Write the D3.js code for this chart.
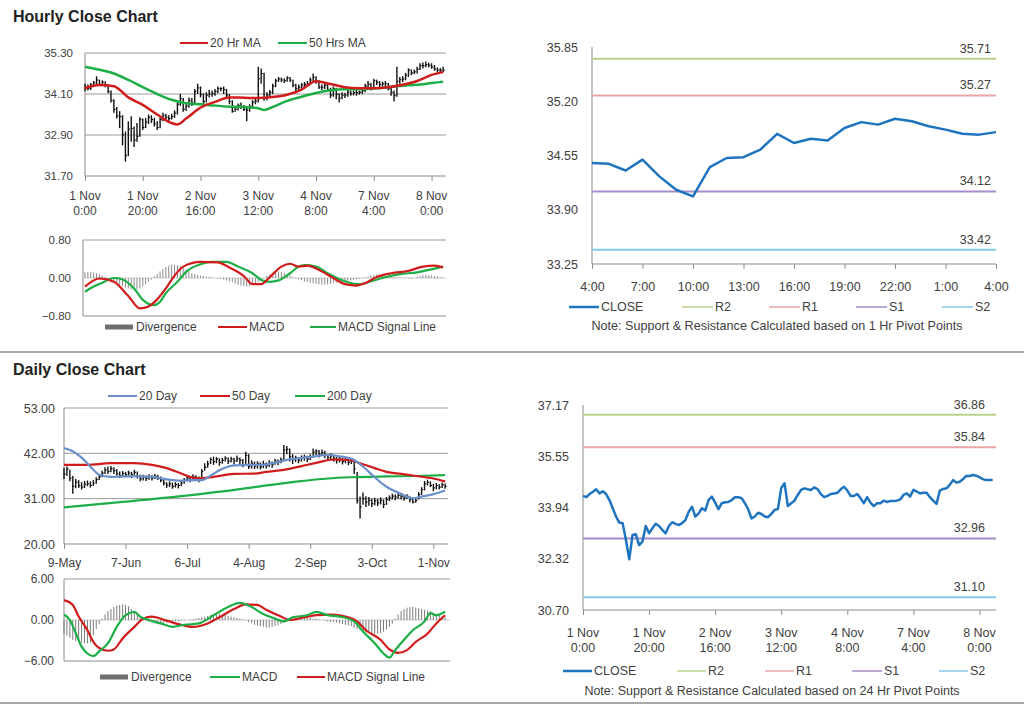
<!DOCTYPE html>
<html><head><meta charset="utf-8">
<script src="https://cdn.jsdelivr.net/npm/d3@7"></script>
<style>
body{margin:0;background:#fff;}
svg{display:block;font-family:"Liberation Sans",Arial,sans-serif;}
</style></head><body>
<svg id="c" width="1024" height="706"></svg>
<script>
// ---------------- HOURLY (1 Nov 0:00 .. 8 Nov 4:00) ----------------
const hourlyTickIdx = [0,20,40,60,80,100,120];
const hourlyTickLabels = [["1 Nov","0:00"],["1 Nov","20:00"],["2 Nov","16:00"],["3 Nov","12:00"],["4 Nov","8:00"],["7 Nov","4:00"],["8 Nov","0:00"]];
const hourlyClose = [34.30,34.26,34.36,34.43,34.51,34.38,34.45,34.36,34.17,33.91,
33.65,33.46,33.44,32.91,32.30,33.07,33.09,32.75,32.86,33.35,
33.12,33.28,33.42,33.35,33.23,33.12,33.35,33.47,33.42,33.38,
33.44,33.54,33.80,33.96,33.65,33.75,33.91,33.84,34.17,34.28,
34.09,33.88,34.07,34.10,34.11,34.17,34.26,34.26,34.23,34.07,
33.88,33.59,33.65,33.77,33.73,33.65,33.63,33.73,33.86,33.89,
34.55,34.70,33.98,34.07,34.15,34.33,34.49,34.54,34.51,34.49,
34.57,34.51,34.36,34.26,34.30,34.36,34.38,34.40,34.51,34.59,
34.47,34.30,34.30,34.36,34.23,34.07,34.26,34.09,33.98,34.07,
34.07,34.15,34.11,34.14,34.14,34.15,34.19,34.33,34.38,34.28,
34.49,34.44,34.38,34.40,34.40,34.26,34.15,34.05,34.47,34.52,
34.54,34.65,34.80,34.72,34.75,34.83,34.93,34.93,34.96,34.94,
34.89,34.83,34.80,34.80,34.80];
const hourlyHigh = [34.40,34.38,34.42,34.48,34.62,34.52,34.50,34.47,34.38,34.20,
33.95,33.72,33.60,33.48,33.00,33.30,33.45,33.15,33.25,33.42,
33.38,33.40,33.50,33.48,33.40,33.30,33.42,33.55,33.52,33.48,
33.52,33.62,33.85,34.10,33.98,33.85,34.00,33.98,34.25,34.40,
34.32,34.12,34.15,34.22,34.20,34.25,34.32,34.30,34.32,34.25,
34.10,33.92,33.75,33.82,33.85,33.78,33.72,33.80,33.92,33.98,
34.90,34.85,34.72,34.15,34.22,34.40,34.55,34.60,34.58,34.56,
34.62,34.60,34.52,34.40,34.38,34.42,34.45,34.48,34.58,34.70,
34.62,34.50,34.38,34.42,34.40,34.28,34.32,34.28,34.12,34.15,
34.14,34.22,34.20,34.20,34.22,34.20,34.26,34.40,34.48,34.42,
34.55,34.52,34.48,34.46,34.48,34.42,34.30,34.20,34.90,34.60,
34.62,34.72,34.85,34.82,34.82,34.90,35.00,35.02,35.05,35.02,
35.00,34.95,34.88,34.86,34.90];
const hourlyLow = [34.18,34.20,34.22,34.30,34.38,34.33,34.34,34.30,34.12,33.85,
33.55,33.38,33.10,32.60,32.12,32.28,32.70,32.55,32.70,32.85,
33.05,33.10,33.22,33.25,33.15,33.05,33.10,33.30,33.35,33.30,
33.35,33.40,33.50,33.75,33.58,33.60,33.70,33.75,33.82,34.10,
34.00,33.80,33.85,34.00,34.02,34.05,34.12,34.18,34.10,34.00,
33.80,33.55,33.58,33.62,33.66,33.60,33.30,33.58,33.70,33.80,
33.85,34.40,33.90,33.92,34.00,34.10,34.30,34.45,34.45,34.42,
34.46,34.45,34.30,34.12,34.22,34.25,34.30,34.33,34.38,34.48,
34.40,34.25,34.22,34.25,34.18,33.98,34.02,33.95,33.85,33.95,
33.98,34.02,34.05,34.06,34.05,34.08,34.10,34.15,34.28,34.20,
34.25,34.36,34.30,34.32,34.30,34.20,34.05,33.88,34.02,34.40,
34.45,34.50,34.60,34.65,34.68,34.70,34.80,34.85,34.88,34.88,
34.84,34.78,34.74,34.72,34.74];
const ma20HrIdx = [0,5,10,15,20,25,30,32,35,40,45,50,55,60,65,70,75,80,85,90,95,100,105,110,115,120,124];
const ma20HrVal = [34.27,34.36,34.33,34.00,33.78,33.50,33.25,33.21,33.38,33.70,33.87,34.00,33.99,33.98,34.01,34.08,34.23,34.47,34.39,34.30,34.27,34.27,34.30,34.37,34.48,34.66,34.74];
const ma50HrIdx = [0,5,10,15,20,25,30,35,40,45,50,55,60,62,65,70,75,80,85,90,95,100,105,110,115,120,124];
const ma50HrVal = [34.90,34.81,34.70,34.51,34.30,34.10,33.93,33.83,33.80,33.76,33.73,33.72,33.68,33.63,33.72,33.90,34.02,34.13,34.21,34.24,34.24,34.26,34.30,34.34,34.37,34.42,34.46];
const hMacdIdx = [0,5,10,15,19,22,25,28,31,34,40,46,50,55,58,61,64,68,71,74,77,80,86,90,94,97,101,106,112,117,121,124];
const hMacdVal = [-0.18,-0.01,-0.08,-0.38,-0.64,-0.60,-0.45,-0.22,0.05,0.24,0.34,0.33,0.22,0.04,-0.13,-0.13,0.02,0.24,0.30,0.24,0.26,0.20,0.00,-0.13,-0.16,-0.11,0.02,0.10,0.15,0.24,0.26,0.22];
const hSignalIdx = [0,3,6,10,13,17,20,24,26,28,32,35,40,44,49,53,58,61,64,67,71,74,76,80,84,88,91,95,98,103,109,115,119,124];
const hSignalVal = [-0.29,-0.18,-0.10,0.00,-0.03,-0.22,-0.46,-0.57,-0.50,-0.32,-0.08,0.13,0.29,0.34,0.34,0.24,0.10,-0.04,-0.08,-0.05,0.10,0.24,0.27,0.24,0.10,-0.02,-0.09,-0.13,-0.09,0.00,0.08,0.12,0.17,0.24];
const hDivergence = [0.12,0.13,0.13,0.12,0.10,0.08,0.05,0.02,-0.02,-0.05,
-0.08,-0.11,-0.14,-0.17,-0.20,-0.22,-0.24,-0.25,-0.24,-0.22,
-0.18,-0.13,-0.08,-0.03,0.03,0.08,0.14,0.19,0.23,0.26,
0.28,0.28,0.27,0.25,0.22,0.18,0.14,0.10,0.08,0.06,
0.05,0.04,0.03,0.02,0.01,0.00,-0.01,-0.02,-0.03,-0.05,
-0.07,-0.09,-0.12,-0.14,-0.16,-0.17,-0.18,-0.17,-0.15,-0.12,
-0.08,-0.04,0.01,0.05,0.08,0.11,0.13,0.14,0.13,0.11,
0.08,0.05,0.02,-0.01,-0.03,-0.05,-0.07,-0.08,-0.10,-0.11,
-0.12,-0.13,-0.14,-0.14,-0.13,-0.12,-0.11,-0.10,-0.09,-0.08,
-0.07,-0.06,-0.05,-0.04,-0.03,-0.02,-0.01,0.01,0.03,0.05,
0.06,0.07,0.07,0.06,0.05,0.04,0.03,0.02,0.01,0.01,
0.00,0.01,-0.01,-0.02,0.00,0.02,0.04,0.06,0.07,0.06,
0.05,0.04,0.03,0.02,0.01];
const hPriceTicks = [31.70,32.90,34.10,35.30];
const hMacdTicks = [-0.80,0.00,0.80];

// ---------------- 1 HR PIVOT (last 24 hours) ----------------
const pivot1Labels = ["4:00","5:00","6:00","7:00","8:00","9:00","10:00","11:00","12:00","13:00","14:00","15:00","16:00","17:00","18:00","19:00","20:00","21:00","22:00","23:00","0:00","1:00","2:00","3:00","4:00"];
const pivot1Close = [34.46,34.45,34.37,34.50,34.30,34.14,34.06,34.41,34.52,34.53,34.62,34.81,34.70,34.75,34.73,34.88,34.95,34.92,34.99,34.96,34.90,34.86,34.81,34.80,34.83];
const pivot1Ticks = [33.25,33.90,34.55,35.20,35.85];
const pivot1Names = ["R2","R1","S1","S2"];
const pivot1Levels = [35.71,35.27,34.12,33.42];

// ---------------- DAILY (9 May .. 8 Nov) ----------------
const dailyTickIdx = [0,21,42,63,84,105,126];
const dailyTickLabels = ["9-May","7-Jun","6-Jul","4-Aug","2-Sep","3-Oct","1-Nov"];
const dailyClose = [37.0,38.2,36.0,34.0,35.0,34.2,33.8,34.5,34.6,34.2,
34.8,35.6,36.3,37.2,38.0,37.6,38.3,37.8,37.0,36.6,
37.1,36.8,37.2,36.9,37.4,36.5,35.8,36.2,35.9,36.3,
36.0,36.4,36.1,35.5,34.8,34.3,34.6,34.0,34.4,34.2,
34.8,35.5,36.0,35.6,36.3,36.0,35.8,37.6,38.6,39.4,
40.5,40.0,40.6,39.8,40.3,40.8,40.1,40.6,40.2,40.7,
40.3,39.2,41.5,38.8,39.6,38.9,39.5,38.7,39.4,39.0,
39.6,39.2,40.1,39.8,40.4,42.8,43.0,41.2,40.5,40.9,
40.3,40.8,41.0,40.6,41.2,42.3,42.5,41.8,42.2,41.5,
41.0,41.4,40.8,40.3,40.6,40.0,40.4,39.8,40.2,38.2,
30.5,29.0,31.0,30.2,30.6,29.8,30.5,30.0,30.6,29.6,
30.8,31.2,31.6,31.4,31.8,31.5,31.2,31.6,30.8,30.2,
30.6,32.0,33.2,34.6,35.0,34.2,33.6,34.2,33.8,34.4,34.0];
const dailyHigh = [38.5,38.8,38.0,36.5,35.8,35.5,35.0,35.3,35.4,35.2,
35.5,36.2,37.0,37.8,38.6,38.8,38.9,38.6,38.2,37.6,
37.7,37.5,37.8,37.5,38.0,37.6,36.8,36.8,36.6,36.9,
36.7,37.0,36.8,36.4,35.8,35.0,35.2,34.9,35.0,34.8,
35.3,36.0,36.6,36.5,36.9,36.7,36.4,38.2,39.6,40.2,
41.0,41.2,41.1,40.8,40.9,41.3,41.0,41.2,40.9,41.5,
41.0,40.6,42.4,41.8,40.3,40.0,40.1,39.8,40.2,39.8,
40.3,40.0,40.7,40.5,41.0,44.0,43.8,43.2,41.8,41.4,
41.0,41.5,41.7,41.4,41.8,43.2,43.0,42.8,42.9,42.6,
41.8,42.0,41.6,41.1,41.2,40.9,41.0,40.7,40.8,40.6,
37.5,31.5,32.5,31.6,31.4,31.0,31.2,30.9,31.3,30.8,
31.4,31.8,32.2,32.0,32.4,32.2,31.9,32.1,31.5,31.0,
31.2,32.6,33.8,35.3,35.6,35.2,34.6,34.8,34.5,34.9,34.7];
const dailyLow = [35.8,36.5,35.2,32.2,33.5,33.6,33.2,33.6,34.0,33.7,
34.1,34.6,35.5,36.2,37.0,37.0,37.4,37.0,36.6,36.0,
36.3,36.2,36.5,36.0,36.6,35.9,35.2,35.4,35.3,35.6,
35.4,35.8,35.5,35.0,34.2,33.6,33.8,33.4,33.7,33.5,
34.0,34.6,35.2,35.0,35.6,35.3,35.0,36.0,37.8,38.5,
39.4,39.2,39.6,39.0,39.5,40.0,39.4,39.8,39.3,39.9,
39.3,38.6,39.0,38.2,38.3,38.2,38.3,38.1,38.4,38.3,
38.7,38.5,39.2,39.1,39.6,40.1,41.8,40.0,39.4,39.9,
39.6,40.0,40.2,39.9,40.4,41.0,41.6,41.0,41.4,40.8,
40.2,40.5,40.0,39.5,39.8,39.3,39.6,39.1,39.4,37.0,
29.8,26.2,29.5,29.0,29.3,29.0,29.4,29.2,29.6,28.7,
29.5,30.4,30.8,30.6,31.0,30.8,30.5,30.9,30.1,29.8,
30.0,30.8,31.9,33.0,34.2,33.8,32.8,33.3,33.2,33.6,33.4];
const ma20DayIdx = [0,3,7,10,12,16,21,26,30,35,40,44,47,50,53,58,63,68,71,76,80,85,90,94,99,102,106,110,115,119,122,126,130];
const ma20DayVal = [43.3,42.5,40.3,38.0,36.8,36.3,36.4,36.4,36.3,35.7,35.4,35.5,35.5,36.6,37.9,39.1,39.2,39.2,39.6,40.4,40.8,41.2,41.6,41.3,40.4,38.8,36.2,33.9,32.2,31.1,31.5,32.1,33.0];
const ma50DayIdx = [0,8,16,24,30,35,40,43,46,51,58,65,69,75,81,86,92,97,101,106,110,115,120,126,130];
const ma50DayVal = [39.2,39.2,39.6,39.6,39.2,38.4,37.1,36.3,35.9,36.3,37.0,37.1,37.5,38.0,38.9,39.7,40.5,40.4,39.6,38.4,37.5,37.0,36.5,35.9,35.2];
const ma200DayIdx = [0,20,40,60,67,80,90,98,110,120,130];
const ma200DayVal = [28.9,30.2,31.6,33.3,34.0,35.2,35.9,36.2,36.4,36.5,36.7];
const dMacdIdx = [0,2,4,6,8,10,12,15,18,21,24,26,29,33,37,41,46,51,56,60,64,67,72,75,78,83,86,90,94,99,102,106,109,111,113,116,119,123,125,127,130];
const dMacdVal = [0.8,0.0,-1.9,-3.9,-4.9,-5.3,-4.6,-3.4,-1.0,0.7,1.2,0.5,0.0,-0.5,-1.0,-0.7,-0.5,0.7,1.9,2.5,1.9,1.1,0.2,-0.2,0.4,0.7,1.2,0.7,0.5,-0.2,-1.7,-3.4,-4.9,-5.5,-4.4,-2.9,-1.5,-0.2,1.0,0.7,1.2];
const dSignalIdx = [0,3,5,8,10,12,15,17,20,24,27,30,35,40,44,49,53,58,62,66,69,74,77,82,86,91,95,100,103,108,111,114,117,120,124,127,130];
const dSignalVal = [2.9,2.2,0.5,-1.5,-3.2,-4.1,-4.5,-4.3,-2.7,-1.0,0.2,0.5,-0.1,-0.7,-1.0,-0.5,0.4,1.6,2.3,2.2,1.5,0.5,0.0,0.4,0.7,0.8,0.6,-0.2,-1.5,-2.9,-4.3,-4.8,-4.4,-3.2,-2.0,-0.5,0.7];
const dDivergence = [-2.0,-2.3,-2.6,-2.9,-3.1,-3.2,-3.3,-3.4,-3.4,-3.3,
-2.2,-1.3,-0.6,0.2,0.8,1.3,1.6,1.9,2.1,2.2,
2.3,2.2,2.0,1.6,1.2,0.8,0.5,0.2,-0.2,-0.3,
-0.4,-0.5,-0.5,-0.5,-0.4,-0.4,-0.3,-0.3,-0.2,-0.2,
-0.1,-0.1,0.0,0.1,0.1,0.2,0.3,0.4,0.5,0.6,
0.7,0.8,0.8,0.9,0.8,0.7,0.6,0.5,0.4,0.3,
0.2,0.1,-0.1,-0.3,-0.5,-0.7,-0.8,-0.9,-1.0,-1.1,
-1.1,-1.0,-0.9,-0.8,-0.6,-0.4,-0.2,0.1,0.2,0.3,
0.3,0.4,0.4,0.3,0.3,0.2,0.2,0.1,0.0,-0.1,
-0.2,-0.3,-0.3,-0.4,-0.5,-0.6,-0.7,-0.8,-0.9,-1.1,
-1.3,-1.5,-1.7,-1.8,-1.9,-2.0,-2.0,-2.0,-1.9,-1.7,
-1.4,-1.0,-0.5,0.2,0.8,1.3,1.6,1.8,1.9,1.9,
1.8,1.7,1.6,1.5,1.4,1.3,1.1,0.9,0.7,0.5,0.4];
const dPriceTicks = [20,31,42,53];
const dMacdTicks = [-6,0,6];

// ---------------- 24 HR PIVOT (hourly close) ----------------
const pivot24Ticks = [30.70,32.32,33.94,35.55,37.17];
const pivot24Names = ["R2","R1","S1","S2"];
const pivot24Levels = [36.86,35.84,32.96,31.10];

// ---------------- drawing ----------------
const svg = d3.select("#c");
const TXT = "#404040", GRID = "#9a9a9a", AXC = "#8c8c8c";
const RED = "#d01c1c", GREEN = "#1eae47", BLUE = "#1f74bf", LBLUE = "#6a8fcb";
const levelColors = ["#b9d38e","#eaa4a4","#a58ec9","#84c9e6"];

function txt(x,y,s,anchor,size,weight,color){
  return svg.append("text").attr("x",x).attr("y",y).attr("text-anchor",anchor||"start")
    .attr("font-size",size||11).attr("font-weight",weight||"normal").attr("fill",color||TXT).text(s);
}
function hline(x1,x2,y,color,w){svg.append("line").attr("x1",x1).attr("x2",x2).attr("y1",y).attr("y2",y).attr("stroke",color).attr("stroke-width",w);}
function vline(x,y1,y2,color,w){svg.append("line").attr("x1",x).attr("x2",x).attr("y1",y1).attr("y2",y2).attr("stroke",color).attr("stroke-width",w);}
function legendLine(x1,x2,y,color,label,w,fs){hline(x1,x2,y,color,w||2);txt(x2+2,y+4,label,"start",fs||12);}
function legendBar(x1,x2,y,label){svg.append("rect").attr("x",x1).attr("y",y-2.5).attr("width",x2-x1).attr("height",5).attr("fill","#6e6e6e");txt(x2+3,y+4,label,"start",12);}

function yAxis(y,ticks,fmt,axisX,labelX,gridX2,gridTicks,fs){
  const g = svg.append("g").attr("transform",`translate(${labelX},0)`)
    .call(d3.axisLeft(y).tickValues(ticks).tickFormat(fmt).tickSize(0).tickPadding(0));
  g.select(".domain").remove();
  g.selectAll("text").attr("font-size",fs).attr("fill",TXT).attr("font-family","Liberation Sans, Arial, sans-serif");
  if(gridTicks) gridTicks.forEach(t=>hline(axisX,gridX2,y(t),GRID,1));
  vline(axisX,y.range()[1],y.range()[0],AXC,1);
}
function xAxisTwoLine(x,y0,idx,labels,x1,x2,l1,l2,fs){
  hline(x1,x2,y0,AXC,1);
  const g = svg.append("g").attr("transform",`translate(0,${y0})`)
    .call(d3.axisBottom(x).tickValues(idx).tickFormat("").tickSize(5));
  g.select(".domain").remove();
  g.selectAll("line").attr("stroke",AXC);
  idx.forEach((d,k)=>{
    const t = svg.append("text").attr("text-anchor","middle").attr("font-size",fs).attr("fill",TXT);
    t.append("tspan").attr("x",x(d)).attr("y",l1).text(labels[k][0]);
    t.append("tspan").attr("x",x(d)).attr("y",l2).text(labels[k][1]);
  });
}
function xAxisOneLine(x,y0,idx,labels,x1,x2,ly,fs){
  hline(x1,x2,y0,AXC,1);
  const g = svg.append("g").attr("transform",`translate(0,${y0})`)
    .call(d3.axisBottom(x).tickValues(idx).tickFormat((d,k)=>labels[k]).tickSize(5).tickPadding(ly-y0-fs-1));
  g.select(".domain").remove();
  g.selectAll("line").attr("stroke",AXC);
  g.selectAll("text").attr("font-size",fs).attr("fill",TXT).attr("font-family","Liberation Sans, Arial, sans-serif");
}
function bars(x,y,hi,lo,cl){
  const g = svg.append("g");
  g.selectAll("line.hl").data(hi).join("line").attr("x1",(d,i)=>x(i)).attr("x2",(d,i)=>x(i))
    .attr("y1",d=>y(d)).attr("y2",(d,i)=>y(lo[i])).attr("stroke","#111").attr("stroke-width",1.4);
  g.selectAll("line.cl").data(cl).join("line").attr("x1",(d,i)=>x(i)).attr("x2",(d,i)=>x(i)+1.6)
    .attr("y1",d=>y(d)).attr("y2",d=>y(d)).attr("stroke","#111").attr("stroke-width",1.2);
}
function sampledLine(x,y,idx,val,color,w){
  const line = d3.line().x(d=>x(d[0])).y(d=>y(d[1])).curve(d3.curveMonotoneX);
  svg.append("path").datum(d3.zip(idx,val)).attr("d",line).attr("fill","none").attr("stroke",color).attr("stroke-width",w).attr("stroke-linejoin","round");
}
function hist(x,y,vals,color){
  svg.append("g").selectAll("line").data(vals).join("line")
    .attr("x1",(d,i)=>x(i)).attr("x2",(d,i)=>x(i)).attr("y1",y(0)).attr("y2",d=>y(d))
    .attr("stroke",color).attr("stroke-width",1);
}
function closeLine(x,y,vals,color,w){
  const line = d3.line().x((d,i)=>x(i)).y(d=>y(d));
  svg.append("path").datum(vals).attr("d",line).attr("fill","none").attr("stroke",color).attr("stroke-width",w).attr("stroke-linejoin","round");
}
function levels(x,y,names,vals,x1,x2,labelX){
  vals.forEach((v,k)=>{
    hline(x1,x2,y(v),levelColors[k],2);
    txt(labelX,y(v)-6,d3.format(".2f")(v),"end",12.5);
  });
}

// Titles & separators
txt(13,22,"Hourly Close Chart","start",16,"bold","#222");
hline(0,1024,352,"#a8a8a8",2);
txt(13,375,"Daily Close Chart","start",16,"bold","#222");
hline(0,1024,703,"#a8a8a8",2);

// Panel 1: hourly price
{
  const x = d3.scaleLinear().domain([0,125]).range([85,446]);
  const y = d3.scaleLinear().domain([31.70,35.30]).range([176,53]);
  yAxis(y,hPriceTicks,d3.format(".2f"),85,73,446,[32.90,34.10,35.30],11.5);
  xAxisTwoLine(x,176,hourlyTickIdx,hourlyTickLabels,85,446,200,215,12);
  bars(x,y,hourlyHigh,hourlyLow,hourlyClose);
  sampledLine(x,y,ma50HrIdx,ma50HrVal,GREEN,2.5);
  sampledLine(x,y,ma20HrIdx,ma20HrVal,RED,2.5);
  legendLine(180,208,43,RED,"20 Hr MA");
  legendLine(278,307,43,GREEN,"50 Hrs MA");
}
// Panel 2: hourly MACD
{
  const x = d3.scaleLinear().domain([0,125]).range([85,446]);
  const y = d3.scaleLinear().domain([-0.8,0.8]).range([316,240]);
  yAxis(y,hMacdTicks,d3.format(".2f"),83,71,446,[0.8],11.5);
  hline(83,446,y(0),"#cfcfcf",1);
  hline(83,446,316,AXC,1);
  hist(x,y,hDivergence,"#8a8a8a");
  sampledLine(x,y,hSignalIdx,hSignalVal,GREEN,2.2);
  sampledLine(x,y,hMacdIdx,hMacdVal,RED,2.2);
  legendBar(105,133,327,"Divergence");
  legendLine(218,247,327,RED,"MACD");
  legendLine(310,336,327,GREEN,"MACD Signal Line");
}
// Panel 3: 1 Hr pivot
{
  const x = d3.scaleLinear().domain([0,24]).range([592,996]);
  const y = d3.scaleLinear().domain([33.25,35.85]).range([264,47]);
  yAxis(y,pivot1Ticks,d3.format(".2f"),592,578,null,null,12.5);
  const idx = d3.range(0,25,3);
  xAxisOneLine(x,264,idx,idx.map(i=>pivot1Labels[i]),592,996,291,12.5);
  levels(x,y,pivot1Names,pivot1Levels,592,996,991);
  closeLine(x,y,pivot1Close,BLUE,2.5);
  legendLine(569,599,307,BLUE,"CLOSE",2.5,12.5);
  legendLine(682,713,307,levelColors[0],"R2",1.5,12.5);
  legendLine(769,800,307,levelColors[1],"R1",1.5,12.5);
  legendLine(856,887,307,levelColors[2],"S1",1.5,12.5);
  legendLine(942,973,307,levelColors[3],"S2",1.5,12.5);
  txt(777,330,"Note: Support & Resistance Calculated based on 1 Hr Pivot Points","middle",12.6);
}
// Panel 4: daily price
{
  const x = d3.scaleLinear().domain([0,131]).range([64,448]);
  const y = d3.scaleLinear().domain([20,53]).range([544,408]);
  yAxis(y,dPriceTicks,d3.format(".2f"),64,55,448,[31,42,53],12.5);
  xAxisOneLine(x,544,dailyTickIdx,dailyTickLabels,64,448,566,12);
  bars(x,y,dailyHigh,dailyLow,dailyClose);
  sampledLine(x,y,ma200DayIdx,ma200DayVal,GREEN,2.2);
  sampledLine(x,y,ma50DayIdx,ma50DayVal,RED,2.2);
  sampledLine(x,y,ma20DayIdx,ma20DayVal,LBLUE,2.2);
  legendLine(108,137,396,LBLUE,"20 Day");
  legendLine(200,230,396,RED,"50 Day");
  legendLine(295,325,396,GREEN,"200 Day");
}
// Panel 5: daily MACD
{
  const x = d3.scaleLinear().domain([0,131]).range([64,448]);
  const y = d3.scaleLinear().domain([-6,6]).range([661,579]);
  yAxis(y,dMacdTicks,d3.format(".2f"),64,54,450,[6],12);
  hline(64,450,y(0),"#cfcfcf",1);
  hline(64,450,661,AXC,1);
  hist(x,y,dDivergence,"#7a7a7a");
  sampledLine(x,y,dSignalIdx,dSignalVal,RED,2.2);
  sampledLine(x,y,dMacdIdx,dMacdVal,GREEN,2.2);
  legendBar(100,128,677,"Divergence");
  legendLine(210,240,677,GREEN,"MACD");
  legendLine(297,325,677,RED,"MACD Signal Line");
}
// Panel 6: 24 Hr pivot
{
  const x = d3.scaleLinear().domain([0,125]).range([583,996]);
  const y = d3.scaleLinear().domain([30.70,37.17]).range([610,405]);
  yAxis(y,pivot24Ticks,d3.format(".2f"),583,569,null,null,12.5);
  xAxisTwoLine(x,610,hourlyTickIdx,hourlyTickLabels,583,996,637,652,12.5);
  levels(x,y,pivot24Names,pivot24Levels,583,996,985);
  closeLine(x,y,hourlyClose,BLUE,2.5);
  legendLine(563,592,671,BLUE,"CLOSE",2.5,12.5);
  legendLine(677,706,671,levelColors[0],"R2",1.5,12.5);
  legendLine(765,794,671,levelColors[1],"R1",1.5,12.5);
  legendLine(852,882,671,levelColors[2],"S1",1.5,12.5);
  legendLine(939,968,671,levelColors[3],"S2",1.5,12.5);
  txt(772,695,"Note: Support & Resistance Calculated based on 24 Hr Pivot Points","middle",12.5);
}
</script>
</body></html>
